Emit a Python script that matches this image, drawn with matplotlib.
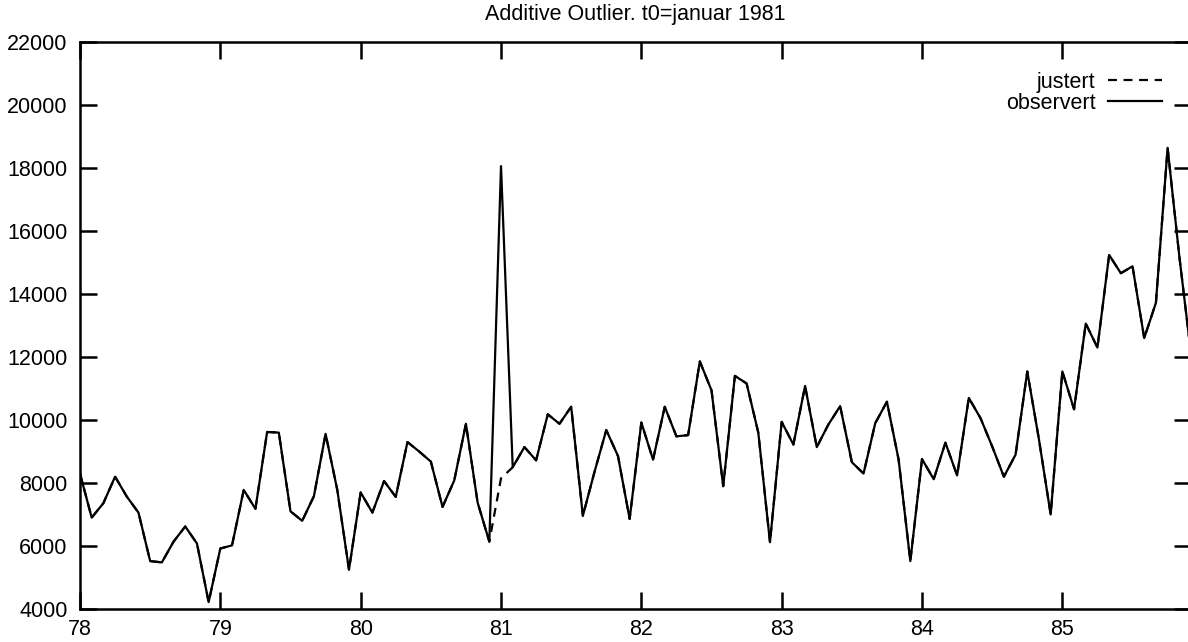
import numpy as np
import matplotlib
matplotlib.use("Agg")
import matplotlib.pyplot as plt

plt.rcParams['font.family'] = ['Liberation Sans', 'DejaVu Sans']

# monthly series, jan 1978 - dec 1985
start_year = 78
observert = [
    8300, 6900, 7360, 8200, 7570, 7060, 5520, 5480, 6140, 6620, 6080, 4220,
    5920, 6020, 7780, 7180, 9620, 9600, 7100, 6800, 7580, 9560, 7780, 5250,
    7700, 7060, 8060, 7560, 9300, 9000, 8680, 7240, 8080, 9880, 7380, 6140,
    18060, 8500, 9140, 8720, 10180, 9880, 10420, 6960, 8360, 9680, 8860, 6860,
    9920, 8740, 10420, 9480, 9520, 11860, 10940, 7900, 11400, 11160, 9600, 6120,
    9940, 9220, 11080, 9140, 9860, 10440, 8660, 8300, 9900, 10580, 8740, 5520,
    8760, 8120, 9280, 8240, 10700, 10060, 9160, 8200, 8900, 11540, 9380, 7000,
    11540, 10340, 13060, 12300, 15240, 14660, 14880, 12600, 13720, 18640, 15200, 12100,
]
outlier_index = 36          # januar 1981
justert_value = 8150

year_ticks = [78, 79, 80, 81, 82, 83, 84, 85]
y_ticks = [4000, 6000, 8000, 10000, 12000, 14000, 16000, 18000, 20000, 22000]

t = start_year + np.arange(len(observert)) / 12.0
justert = list(observert)
justert[outlier_index] = justert_value

fig = plt.figure(figsize=(11.88, 6.42), dpi=100)
ax = fig.add_axes([80 / 1188, 33 / 642, 1111 / 1188, 567 / 642])

ax.plot(t, justert, color='black', lw=1.6, ls=(0, (4, 3)), label='justert')
ax.plot(t, observert, color='black', lw=1.6, label='observert')

ax.set_xlim(78, t[-1])
ax.set_ylim(4000, 22000)
ax.set_xticks(year_ticks)
ax.set_xticklabels([str(y) for y in year_ticks])
ax.set_yticks(y_ticks)

ax.tick_params(direction='in', length=12, width=1.8, labelsize=15.5,
               top=True, right=True)
ax.tick_params(axis='x', pad=7)
ax.tick_params(axis='y', pad=9)
for s in ax.spines.values():
    s.set_linewidth(1.8)

ax.set_title('Additive Outlier. t0=januar 1981', fontsize=15.5, pad=16)

ax.legend(loc='upper right', bbox_to_anchor=(1162 / 1188, (642 - 72) / 642),
          bbox_transform=fig.transFigure, frameon=False, markerfirst=False,
          fontsize=15.5, handlelength=2.5, handletextpad=0.6, labelspacing=0.0,
          borderpad=0, borderaxespad=0)

fig.savefig('out.png', dpi=100)
